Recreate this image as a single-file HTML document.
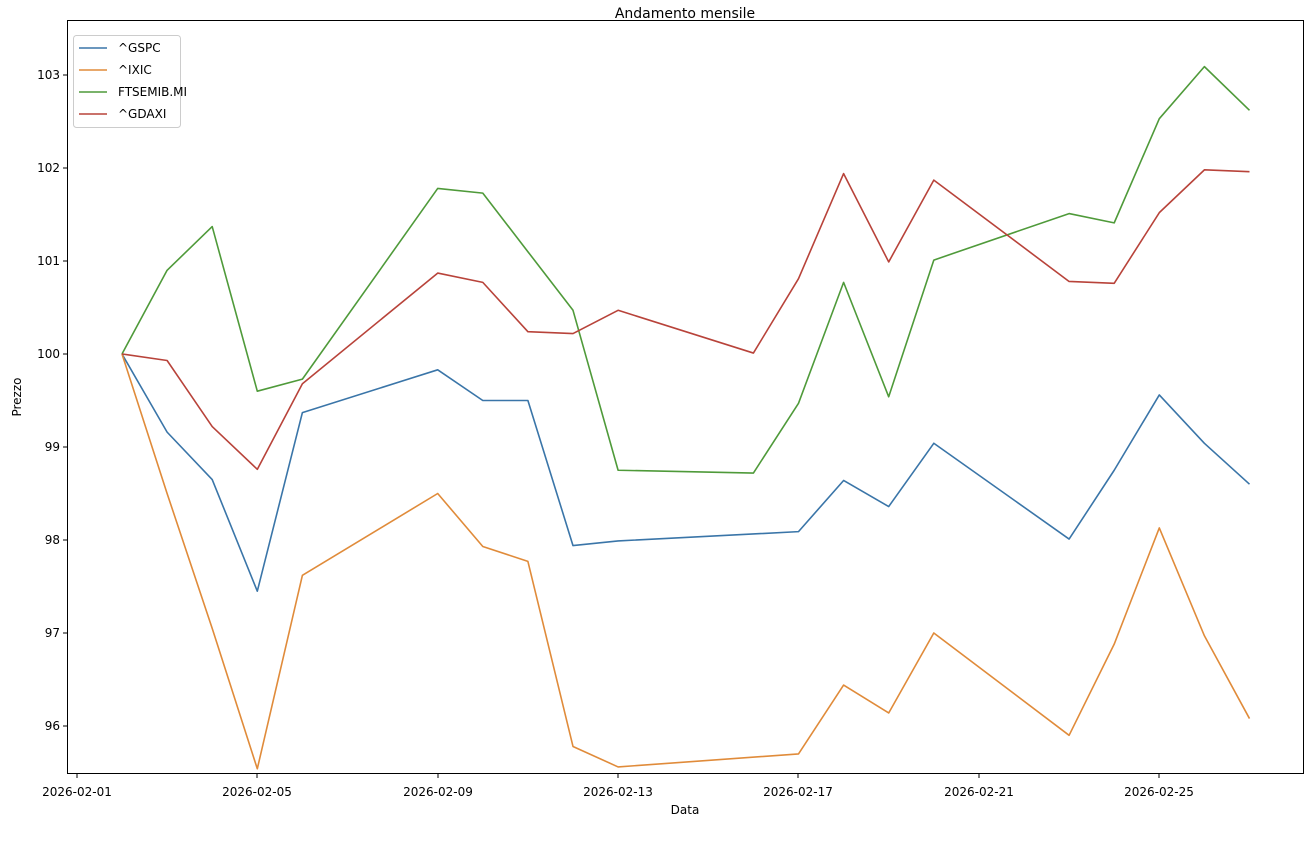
<!DOCTYPE html>
<html><head><meta charset="utf-8"><style>
body{margin:0;background:#fff;}
svg text{font-family:"DejaVu Sans","Liberation Sans",sans-serif;font-size:12px;fill:#000;}
</style></head><body>
<svg width="1315" height="855" xmlns="http://www.w3.org/2000/svg">
<rect width="1315" height="855" fill="#fff"/>
<text x="685" y="18" text-anchor="middle" style="font-size:14px">Andamento mensile</text>
<rect x="67.5" y="20.5" width="1236" height="753" fill="none" stroke="#000" stroke-width="1"/>
<g stroke="#000">
<line x1="77" y1="774" x2="77" y2="778"/><line x1="257" y1="774" x2="257" y2="778"/><line x1="438" y1="774" x2="438" y2="778"/><line x1="618" y1="774" x2="618" y2="778"/><line x1="798" y1="774" x2="798" y2="778"/><line x1="979" y1="774" x2="979" y2="778"/><line x1="1159" y1="774" x2="1159" y2="778"/>
<line x1="63" y1="75" x2="67" y2="75"/><line x1="63" y1="168" x2="67" y2="168"/><line x1="63" y1="261" x2="67" y2="261"/><line x1="63" y1="354" x2="67" y2="354"/><line x1="63" y1="447" x2="67" y2="447"/><line x1="63" y1="540" x2="67" y2="540"/><line x1="63" y1="633" x2="67" y2="633"/><line x1="63" y1="726" x2="67" y2="726"/>
</g>
<g text-anchor="middle">
<text x="77" y="796">2026-02-01</text><text x="257" y="796">2026-02-05</text><text x="438" y="796">2026-02-09</text><text x="618" y="796">2026-02-13</text><text x="798" y="796">2026-02-17</text><text x="979" y="796">2026-02-21</text><text x="1159" y="796">2026-02-25</text>
<text x="685" y="814">Data</text>
</g>
<g text-anchor="end">
<text x="60" y="79">103</text><text x="60" y="172">102</text><text x="60" y="265">101</text><text x="60" y="358">100</text><text x="60" y="451">99</text><text x="60" y="544">98</text><text x="60" y="637">97</text><text x="60" y="730">96</text>
</g>
<text transform="translate(21,397) rotate(-90)" text-anchor="middle">Prezzo</text>
<g transform="translate(122,354) scale(45.1,-93)" fill="none" stroke-width="1.6" stroke-linejoin="round">
<polyline vector-effect="non-scaling-stroke" stroke="#3a75a8" points="0,0 1,-0.84 2,-1.35 3,-2.55 4,-0.63 7,-0.17 8,-0.5 9,-0.5 10,-2.06 11,-2.01 15,-1.91 16,-1.36 17,-1.64 18,-0.96 21,-1.99 22,-1.25 23,-0.44 24,-0.96 25,-1.4"/>
<polyline vector-effect="non-scaling-stroke" stroke="#e08b3a" points="0,0 1,-1.5 2,-2.95 3,-4.46 4,-2.38 7,-1.5 8,-2.07 9,-2.23 10,-4.22 11,-4.44 15,-4.3 16,-3.56 17,-3.86 18,-3.0 21,-4.1 22,-3.12 23,-1.87 24,-3.03 25,-3.92"/>
<polyline vector-effect="non-scaling-stroke" stroke="#4f9a3a" points="0,0 1,0.9 2,1.37 3,-0.4 4,-0.27 7,1.78 8,1.73 9,1.1 10,0.47 11,-1.25 14,-1.28 15,-0.53 16,0.77 17,-0.46 18,1.01 21,1.51 22,1.41 23,2.53 24,3.09 25,2.62"/>
<polyline vector-effect="non-scaling-stroke" stroke="#b8433a" points="0,0 1,-0.07 2,-0.78 3,-1.24 4,-0.32 7,0.87 8,0.77 9,0.24 10,0.22 11,0.47 14,0.01 15,0.81 16,1.94 17,0.99 18,1.87 21,0.78 22,0.76 23,1.52 24,1.98 25,1.96"/>
</g>
<rect x="73.5" y="35.5" width="107" height="92" rx="3" fill="#fff" fill-opacity="0.8" stroke="#ccc"/>
<g stroke-width="1.6">
<line x1="79" y1="48" x2="107" y2="48" stroke="#3a75a8"/>
<line x1="79" y1="70" x2="107" y2="70" stroke="#e08b3a"/>
<line x1="79" y1="92" x2="107" y2="92" stroke="#4f9a3a"/>
<line x1="79" y1="114" x2="107" y2="114" stroke="#b8433a"/>
</g>
<text x="118" y="52">^GSPC</text><text x="118" y="74">^IXIC</text><text x="118" y="96">FTSEMIB.MI</text><text x="118" y="118">^GDAXI</text>
</svg>
</body></html>
